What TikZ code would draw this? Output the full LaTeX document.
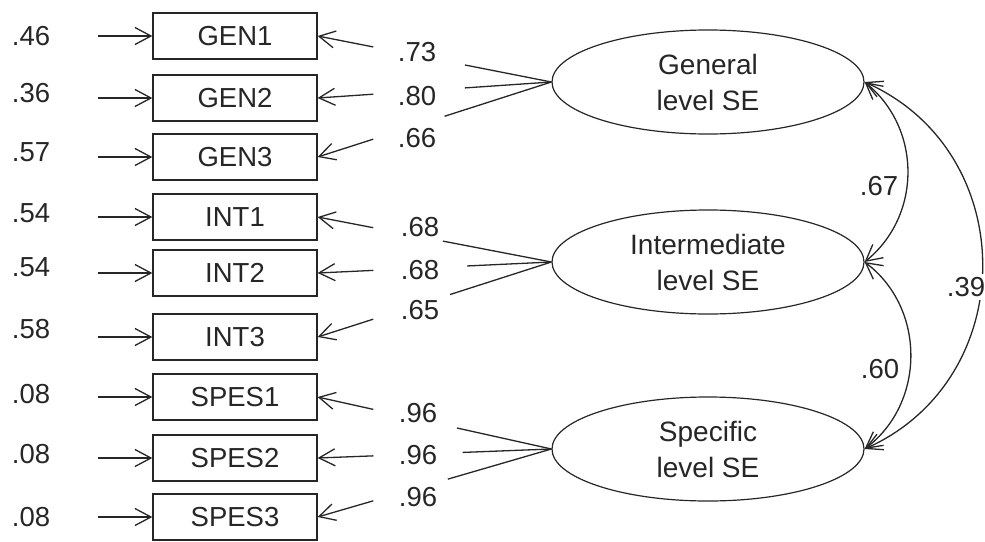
\documentclass[tikz,border=0pt]{standalone}
\usepackage{fontspec}
\setmainfont{Liberation Sans}
\usetikzlibrary{shapes.geometric,arrows.meta,calc}
\definecolor{ink}{gray}{0.15}
\begin{document}
\begin{tikzpicture}[x=1pt,y=-1pt, color=ink,
  obs/.style={draw, line width=1.3pt, minimum width=164pt, minimum height=46pt, inner sep=0pt,
    font=\fontsize{27.5}{32}\selectfont},
  lat/.style={draw, ellipse, line width=1.2pt, minimum width=312pt, minimum height=104pt, inner sep=0pt,
    align=center, font=\fontsize{28}{36}\selectfont},
  num/.style={inner sep=0pt, font=\fontsize{27.5}{30}\selectfont},
  arr/.style={line width=1.3pt, -{Straight Barb[length=16pt,width=17pt]}},
  ln/.style={line width=1.3pt},
  cov/.style={line width=1.3pt, {Straight Barb[length=16pt,width=17pt]}-{Straight Barb[length=16pt,width=17pt]}},
]
\useasboundingbox (0,0) rectangle (985,541);

% latent variables
\node[lat] (G) at (708,82) {General\\level SE};
\node[lat] (I) at (708,262) {Intermediate\\level SE};
\node[lat] (S) at (708,449) {Specific\\level SE};

% observed variables, error variances and error arrows
\foreach \n/\t/\y/\e/\ey in {gen1/GEN1/36/.46/36, gen2/GEN2/98/.36/93, gen3/GEN3/157/.57/152,
    int1/INT1/217/.54/213, int2/INT2/273/.54/267, int3/INT3/337/.58/329,
    spes1/SPES1/397/.08/394, spes2/SPES2/458/.08/454, spes3/SPES3/517/.08/517}{
  \node[obs] (\n) at (235,\y) {\t};
  \node[num] (e\n) at (31,\ey) {\e};
  \coordinate (s\n) at (98,\y);
  \draw[arr] (s\n) -- (\n.west);
}

% factor loadings
\foreach \n/\f/\q/\v/\lx/\ly in {gen1/G/0.37/.73/417/52, gen2/G/0.37/.80/417/96, gen3/G/0.457/.66/417/138,
    int1/I/0.464/.68/420/227, int2/I/0.36/.68/420/270, int3/I/0.434/.65/420/310,
    spes1/S/0.404/.96/418/413, spes2/S/0.38/.96/418/455, spes3/S/0.443/.96/418/497}{
  \node[num] (l\n) at (\lx,\ly) {\v};
  \coordinate (p\n) at ($(\f.west)!0.762!(\n.east)$);
  \coordinate (q\n) at ($(\f.west)!\q!(\n.east)$);
  \draw[arr] (p\n) -- (\n.east);
  \draw[ln] (\f.west) -- (q\n);
}

% covariances
\draw[cov] (G.east) to[out=-39,in=39,looseness=1.05] (I.east);
\draw[cov] (I.east) to[out=-37,in=37,looseness=1.05] (S.east);
\draw[cov] (G.east) to[out=-24,in=24,looseness=1.2] (S.east);
\node[num] (c1) at (879,186) {.67};
\node[num] (c2) at (880,369) {.60};
\node[num, fill=white, inner xsep=1pt, inner ysep=3pt] (c3) at (966,287) {.39};
\end{tikzpicture}
\end{document}
